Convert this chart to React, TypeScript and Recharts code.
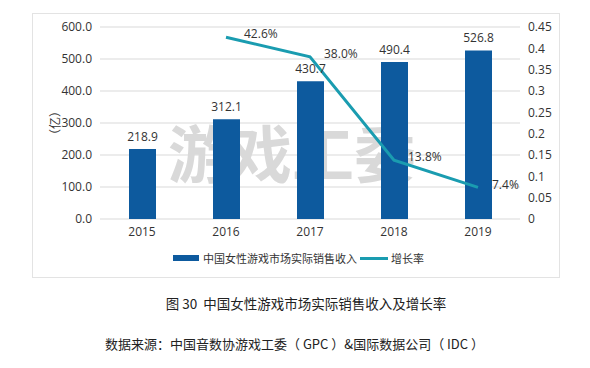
import { Bar, CartesianGrid, ComposedChart, LabelList, Line, XAxis, YAxis } from "recharts";

const years = ["2015", "2016", "2017", "2018", "2019"];
const revenue = [218.9, 312.1, 430.7, 490.4, 526.8];
const growth = [null, 0.426, 0.38, 0.138, 0.074];
const growthLabels = ["", "42.6%", "38.0%", "13.8%", "7.4%"];
const leftTicks = [0, 100, 200, 300, 400, 500, 600];
const rightTicks = [0, 0.05, 0.1, 0.15, 0.2, 0.25, 0.3, 0.35, 0.4, 0.45];

const data = years.map((year, i) => ({
  year,
  revenue: revenue[i],
  growth: growth[i],
  growthLabel: growthLabels[i],
}));

const FONT = "'Open Sans', 'Noto Sans CJK SC', sans-serif";
const CJK = "'Noto Sans CJK SC', sans-serif";
const BAR_COLOR = "#0d5a9e";
const LINE_COLOR = "#1a9cb0";

const GrowthLabel = (props: any) => {
  const { x, y, value, index } = props;
  if (!value) return null;
  const dx = index === 1 ? 18 : 14;
  return (
    <text x={x + dx} y={y - 2} fontSize={12} fill="#333" fontFamily={FONT} dominantBaseline="middle">
      {value}
    </text>
  );
};

export default function App() {
  return (
    <div style={{ position: "absolute", top: 0, left: 0, width: 590, height: 368, background: "#fff", fontFamily: FONT }}>
      <div
        style={{
          position: "absolute",
          left: 32,
          top: 13,
          width: 528,
          height: 265,
          border: "1px solid #e3e3e3",
          boxSizing: "border-box",
        }}
      />
      <div
        style={{
          position: "absolute",
          left: 168,
          top: 106,
          fontSize: 62,
          fontWeight: 700,
          color: "rgba(170,170,170,0.45)",
          fontFamily: CJK,
          whiteSpace: "nowrap",
        }}
      >
        游戏工委
      </div>
      <div style={{ position: "absolute", top: 0, left: 0 }}>
        <ComposedChart
          width={590}
          height={260}
          data={data}
          margin={{ top: 27, right: 20, bottom: 11, left: 40 }}
        >
          <CartesianGrid vertical={false} stroke="#d9d9d9" yAxisId="left" />
          <XAxis
            dataKey="year"
            axisLine={false}
            tickLine={false}
            height={30}
            tick={{ fontSize: 12, fill: "#333", fontFamily: FONT }}
          />
          <YAxis
            yAxisId="left"
            width={60}
            domain={[0, 600]}
            ticks={leftTicks}
            interval={0}
            axisLine={false}
            tickLine={false}
            tickFormatter={(v) => v.toFixed(1)}
            tick={{ fontSize: 12, fill: "#333", fontFamily: FONT }}
          />
          <YAxis
            yAxisId="right"
            orientation="right"
            width={50}
            domain={[0, 0.45]}
            ticks={rightTicks}
            interval={0}
            axisLine={false}
            tickLine={false}
            tickFormatter={(v) => String(Math.round(v * 100) / 100)}
            tick={{ fontSize: 12, fill: "#333", fontFamily: FONT }}
          />
          <Bar yAxisId="left" dataKey="revenue" fill={BAR_COLOR} barSize={27} isAnimationActive={false}>
            <LabelList
              dataKey="revenue"
              position="top"
              offset={8}
              formatter={(v: any) => Number(v).toFixed(1)}
              style={{ fontSize: 12, fill: "#333", fontFamily: FONT }}
            />
          </Bar>
          <Line
            yAxisId="right"
            dataKey="growth"
            stroke={LINE_COLOR}
            strokeWidth={3}
            dot={false}
            connectNulls
            isAnimationActive={false}
          >
            <LabelList dataKey="growthLabel" content={GrowthLabel} />
          </Line>
        </ComposedChart>
      </div>
      <div
        style={{
          position: "absolute",
          top: 250,
          left: 173,
          display: "flex",
          alignItems: "center",
          fontSize: 11,
          color: "#333",
          fontFamily: CJK,
          whiteSpace: "nowrap",
        }}
      >
        <span style={{ display: "inline-block", width: 26, height: 6, background: BAR_COLOR, marginRight: 4 }} />
        <span>中国女性游戏市场实际销售收入</span>
        <span style={{ display: "inline-block", width: 28, height: 3, background: LINE_COLOR, margin: "0 3px" }} />
        <span>增长率</span>
      </div>
      <div
        style={{
          position: "absolute",
          left: 44,
          top: 113,
          width: 20,
          height: 20,
          transform: "rotate(-90deg)",
          fontSize: 12,
          color: "#333",
          fontFamily: CJK,
          whiteSpace: "nowrap",
          display: "flex",
          justifyContent: "center",
          alignItems: "center",
        }}
      >
        （亿）
      </div>
      <div
        style={{
          position: "absolute",
          top: 293,
          left: 0,
          width: 612,
          textAlign: "center",
          fontSize: 13.5,
          color: "#222",
          fontFamily: CJK,
        }}
      >
        图 30&nbsp;&nbsp;中国女性游戏市场实际销售收入及增长率
      </div>
      <div
        style={{
          position: "absolute",
          top: 334,
          left: 105,
          fontSize: 13,
          color: "#222",
          fontFamily: CJK,
          whiteSpace: "pre",
        }}
      >
        {"数据来源：中国音数协游戏工委（ GPC ）&国际数据公司（ IDC ）"}
      </div>
    </div>
  );
}
